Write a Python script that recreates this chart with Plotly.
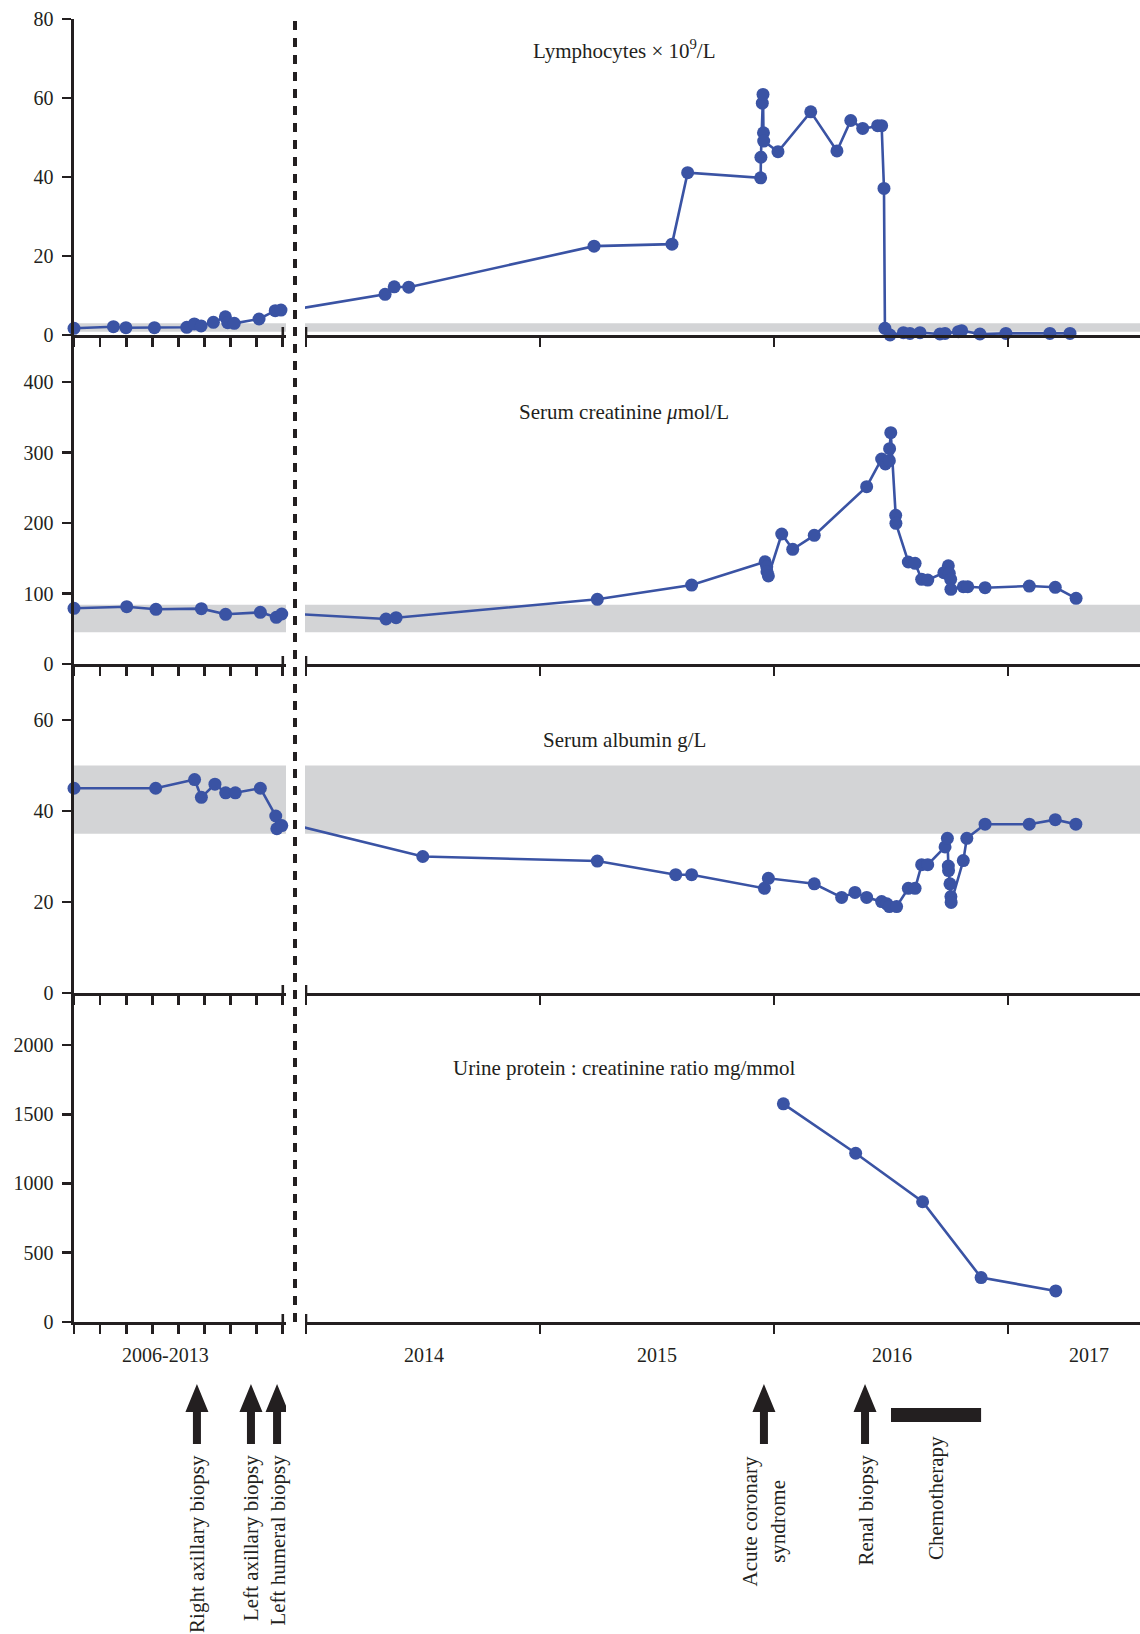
import plotly.graph_objects as go

W, H = 1140, 1634
FONT = "Liberation Serif, Times New Roman, serif"
INK = "#231f20"
BLUE = "#3a53a4"
BAND = "#d3d4d6"

# ---------------- data ----------------
# x values: left part = compressed timeline 2006-2013, right part = calendar years (decimal)
lym_left_x = [2006.00, 2007.51, 2007.99, 2009.08, 2010.32, 2010.61, 2010.87, 2011.34,
              2011.80, 2011.89, 2012.14, 2013.09, 2013.71, 2013.93]
lym_left_y = [1.7, 2.1, 1.85, 1.85, 1.95, 2.8, 2.3, 3.2, 4.6, 3.1, 2.95, 4.05, 6.15, 6.3]
lym_right_x = [2014.338, 2014.377, 2014.439, 2015.231, 2015.564, 2015.631, 2015.943, 2015.944,
               2015.950, 2015.953, 2015.955, 2015.956, 2016.017, 2016.157, 2016.269, 2016.328,
               2016.379, 2016.443, 2016.460, 2016.470, 2016.474, 2016.496, 2016.553, 2016.581,
               2016.624, 2016.709, 2016.731, 2016.788, 2016.802, 2016.880, 2016.991, 2017.179,
               2017.265]
lym_right_y = [10.3, 12.2, 12.1, 22.5, 23.0, 41.1, 39.8, 45.0,
               58.7, 60.9, 51.2, 49.1, 46.4, 56.5, 46.6, 54.3,
               52.3, 53.0, 53.0, 37.1, 1.7, 0.0, 0.6, 0.4,
               0.6, 0.25, 0.4, 0.85, 1.1, 0.25, 0.4, 0.4,
               0.4]

cre_left_x = [2006.00, 2008.02, 2009.14, 2010.88, 2011.81, 2013.14, 2013.75, 2013.96]
cre_left_y = [79, 81.3, 77.6, 78.5, 70.5, 73.3, 66.2, 70.9]
cre_right_x = [2014.342, 2014.385, 2015.245, 2015.648, 2015.962, 2015.969, 2015.970, 2015.976,
               2016.033, 2016.080, 2016.172, 2016.396, 2016.460, 2016.476, 2016.493, 2016.494,
               2016.499, 2016.520, 2016.521, 2016.574, 2016.603, 2016.631, 2016.657, 2016.726,
               2016.745, 2016.749, 2016.755, 2016.756, 2016.809, 2016.828, 2016.902, 2017.091,
               2017.202, 2017.291]
cre_right_y = [63.8, 65.7, 91.8, 112, 145, 138, 131, 125,
               184.4, 162.7, 182.5, 251.5, 290.8, 283.7, 288.4, 305.4,
               328.1, 210.9, 199.6, 144.7, 142.8, 120.1, 119.1, 129.5,
               139.4, 128.6, 120.1, 105.9, 109.6, 109.6, 108.2, 110.6,
               108.8, 93.2]

alb_left_x = [2006.00, 2009.13, 2010.62, 2010.88, 2011.40, 2011.81, 2012.18, 2013.14,
              2013.73, 2013.77, 2013.96]
alb_left_y = [45, 45, 46.9, 43.0, 45.9, 44, 44, 45, 38.9, 36.1, 36.8]
alb_right_x = [2014.499, 2015.245, 2015.580, 2015.648, 2015.959, 2015.976, 2016.172, 2016.289,
               2016.346, 2016.396, 2016.460, 2016.482, 2016.493, 2016.524, 2016.574, 2016.603,
               2016.631, 2016.657, 2016.731, 2016.741, 2016.745, 2016.746, 2016.752, 2016.756,
               2016.757, 2016.809, 2016.824, 2016.902, 2017.091, 2017.202, 2017.290]
alb_right_y = [30.0, 29.0, 26.0, 26.0, 23.0, 25.2, 24.0, 21.0,
               22.1, 21.0, 20.1, 19.6, 19.0, 19.0, 23.0, 23.0,
               28.2, 28.2, 32.1, 34.0, 27.9, 26.9, 24.0, 21.2,
               19.9, 29.1, 34.0, 37.1, 37.1, 38.1, 37.1]

upcr_left_x = []
upcr_left_y = []
upcr_right_x = [2016.040, 2016.349, 2016.635, 2016.885, 2017.204]
upcr_right_y = [1575, 1218, 868, 321, 224]

# reference ranges (grey bands)
lym_band = (0.8, 3.0)
cre_band = (45, 84)
alb_band = (35, 50)
upcr_band = None

titles = ["Lymphocytes \u00d7 10<sup>9</sup>/L",
          "Serum creatinine <i>\u03bc</i>mol/L",
          "Serum albumin g/L",
          "Urine protein : creatinine ratio mg/mmol"]
y_ticks = [[0, 20, 40, 60, 80], [0, 100, 200, 300, 400], [0, 20, 40, 60],
           [0, 500, 1000, 1500, 2000]]
y_ranges = [[0, 80], [0, 466.7], [0, 72.3], [0, 2375]]

left_ticks = [2006, 2007, 2008, 2009, 2010, 2011, 2012, 2013, 2014]
right_ticks = [2014, 2015, 2016, 2017]
year_labels = ["2006-2013", "2014", "2015", "2016", "2017"]
year_label_x = [2009.49, 2014.504, 2015.50, 2016.504, 2017.346]

events_left = ["Right axillary biopsy", "Left axillary biopsy", "Left humeral biopsy"]
events_left_x = [2010.71, 2012.78, 2013.78]
events_right = ["Acute coronary<br>syndrome", "Renal biopsy"]
events_right_x = [2015.957, 2016.389]
chemo_label = "Chemotherapy"
chemo_start, chemo_end = 2016.500, 2016.885

# ---------------- layout geometry (pixels) ----------------
def px(p):
    return p / W

def py(p):
    return 1 - p / H

def ax_id(letter, i):
    return letter if i == 1 else f"{letter}{i}"

TICK_FS = 20
TEXT_FS = 21

left_dom = [px(74), px(286)]
right_dom = [px(305), px(1140)]
left_range = [2006, 2006 + 212 / 26.1]
right_range = [2014 - 1 / 234, 2014 + 834 / 234]
row_px = [(19, 335), (335, 664), (664, 993), (993, 1322)]
title_px = [50, 412, 740, 1068]

panels = [
    (lym_left_x, lym_left_y, lym_right_x, lym_right_y, lym_band),
    (cre_left_x, cre_left_y, cre_right_x, cre_right_y, cre_band),
    (alb_left_x, alb_left_y, alb_right_x, alb_right_y, alb_band),
    (upcr_left_x, upcr_left_y, upcr_right_x, upcr_right_y, upcr_band),
]

fig = go.Figure()
shapes = []
annotations = []
layout = {}

for r, (lx, ly, rx, ry, band) in enumerate(panels):
    il, ir = 2 * r + 1, 2 * r + 2
    xl, yl, xr, yr = ax_id("x", il), ax_id("y", il), ax_id("x", ir), ax_id("y", ir)
    # left part
    if lx:
        fig.add_trace(go.Scatter(x=lx, y=ly, xaxis=xl, yaxis=yl, mode="lines",
                                 line=dict(color=BLUE, width=2.6), hoverinfo="skip"))
        fig.add_trace(go.Scatter(x=lx, y=ly, xaxis=xl, yaxis=yl, mode="markers",
                                 marker=dict(color=BLUE, size=13), cliponaxis=False))
    # right part (line continues across the break from the last left point)
    cx = ([lx[-1]] if lx else []) + rx
    cy = ([ly[-1]] if ly else []) + ry
    fig.add_trace(go.Scatter(x=cx, y=cy, xaxis=xr, yaxis=yr, mode="lines",
                             line=dict(color=BLUE, width=2.6), hoverinfo="skip"))
    fig.add_trace(go.Scatter(x=rx, y=ry, xaxis=xr, yaxis=yr, mode="markers",
                             marker=dict(color=BLUE, size=13), cliponaxis=False))

    ydom = [py(row_px[r][1]), py(row_px[r][0])]
    axis_common = dict(showgrid=False, zeroline=False, showline=True, linecolor=INK,
                       linewidth=2.6, ticks="outside", ticklen=9, tickwidth=2.6,
                       tickcolor=INK, showticklabels=False, fixedrange=True,
                       automargin=False)
    layout[ax_id("xaxis", il)] = dict(domain=left_dom, range=left_range, anchor=yl,
                                      tickvals=left_ticks, **axis_common)
    layout[ax_id("xaxis", ir)] = dict(domain=right_dom, range=right_range, anchor=yr,
                                      tickvals=right_ticks, **axis_common)
    layout[ax_id("yaxis", il)] = dict(domain=ydom, range=y_ranges[r], anchor=xl,
                                      showgrid=False, zeroline=False, showline=True,
                                      linecolor=INK, linewidth=2.6, ticks="outside",
                                      ticklen=9, tickwidth=2.6, tickcolor=INK,
                                      tickvals=y_ticks[r], ticklabelstandoff=5,
                                      tickfont=dict(family=FONT, size=TICK_FS, color=INK),
                                      fixedrange=True, automargin=False)
    layout[ax_id("yaxis", ir)] = dict(domain=ydom, range=y_ranges[r], anchor=xr,
                                      visible=False, fixedrange=True, automargin=False)

    # grey reference bands
    if band:
        for xa, ya in ((xl, yl), (xr, yr)):
            shapes.append(dict(type="rect", xref=f"{xa} domain", yref=ya, x0=0, x1=1,
                               y0=band[0], y1=band[1], fillcolor=BAND, line=dict(width=0),
                               layer="below"))
    # break marks (upper half of the end ticks)
    for xa, ya in ((xl, yl), (xr, yr)):
        shapes.append(dict(type="line", xref=xa, yref=ya, x0=2014, x1=2014,
                           ysizemode="pixel", yanchor=0, y0=0, y1=8,
                           line=dict(color=INK, width=2.6)))

    annotations.append(dict(text=titles[r], xref="paper", yref="paper", x=px(624),
                            y=py(title_px[r]), showarrow=False, xanchor="center",
                            yanchor="middle",
                            font=dict(family=FONT, size=TEXT_FS, color=INK)))

# dashed break line
shapes.append(dict(type="line", xref="paper", yref="paper", x0=px(295), x1=px(295),
                   y0=py(1322), y1=py(16), line=dict(color=INK, width=4, dash="9px,8px")))

# year labels under the bottom panel
for i, (lab, xv) in enumerate(zip(year_labels, year_label_x)):
    annotations.append(dict(text=lab, xref="x7" if i == 0 else "x8", yref="paper", x=xv,
                            y=py(1355), showarrow=False, xanchor="center", yanchor="middle",
                            font=dict(family=FONT, size=TICK_FS, color=INK)))

def arrow_path():
    yt, ys, yb = py(1384), py(1412), py(1444)
    return (f"M -4,{yb} L 4,{yb} L 4,{ys} L 11.5,{ys} L 0,{yt} "
            f"L -11.5,{ys} L -4,{ys} Z")

for labels, xs, xa in ((events_left, events_left_x, "x7"), (events_right, events_right_x, "x8")):
    for lab, xv in zip(labels, xs):
        shapes.append(dict(type="path", xref=xa, yref="paper", xsizemode="pixel",
                           xanchor=xv, path=arrow_path(), fillcolor=INK,
                           line=dict(width=0)))
        annotations.append(dict(text=lab, xref=xa, yref="paper", x=xv, y=py(1453),
                                showarrow=False, textangle=-90, xanchor="center",
                                yanchor="top", align="center",
                                font=dict(family=FONT, size=TEXT_FS, color=INK)))

# chemotherapy bar
shapes.append(dict(type="rect", xref="x8", yref="paper", x0=chemo_start, x1=chemo_end,
                   y0=py(1422), y1=py(1408), fillcolor=INK, line=dict(width=0)))
annotations.append(dict(text=chemo_label, xref="x8", yref="paper",
                        x=(chemo_start + chemo_end) / 2, y=py(1434), showarrow=False,
                        textangle=-90, xanchor="center", yanchor="top",
                        font=dict(family=FONT, size=TEXT_FS, color=INK)))

fig.update_layout(width=W, height=H, margin=dict(l=0, r=0, t=0, b=0, pad=0, autoexpand=False),
                  paper_bgcolor="white", plot_bgcolor="rgba(0,0,0,0)",
                  showlegend=False, shapes=shapes, annotations=annotations,
                  font=dict(family=FONT, color=INK), **layout)

fig.write_html(
    "out.html",
    config={"displayModeBar": False, "staticPlot": True},
    post_script=("var gd=document.getElementById('{plot_id}');"
                 "gd.style.position='fixed';gd.style.left='0px';gd.style.top='0px';"
                 "document.documentElement.style.margin='0px';"
                 "document.body.style.margin='0px';document.body.style.padding='0px';"
                 "document.documentElement.style.overflow='hidden';"
                 "document.body.style.overflow='hidden';"),
)
